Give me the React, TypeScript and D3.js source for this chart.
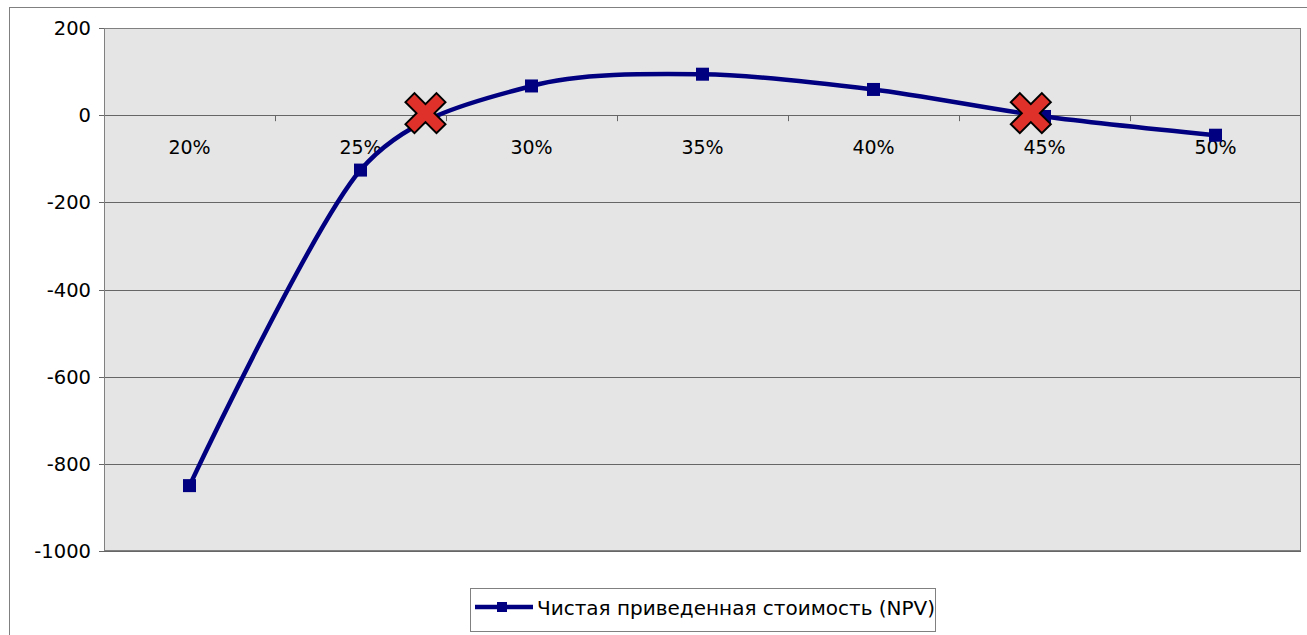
import React from "react";
import * as d3 from "d3";

// NPV profile by discount rate
const rates: string[] = ["20%", "25%", "30%", "35%", "40%", "45%", "50%"];
const npv: number[] = [-850, -126, 67, 94, 59, -3, -46];
// Internal rates of return (discount rate, %) where NPV crosses zero
const irrRates: number[] = [26.9, 44.6];
const rateNumbers: number[] = [20, 25, 30, 35, 40, 45, 50];
const yTicks: number[] = [200, 0, -200, -400, -600, -800, -1000];
const seriesName = "Чистая приведенная стоимость (NPV)";

const W = 1307;
const H = 635;
const plot = { left: 104, top: 28, right: 1301, bottom: 551 };
const FONT = "'DejaVu Sans', Verdana, sans-serif";
const NAVY = "#000080";

export default function App() {
  const x = d3
    .scaleBand<string>()
    .domain(rates)
    .range([plot.left, plot.right])
    .padding(0);
  const y = d3.scaleLinear().domain([-1000, 200]).range([plot.bottom, plot.top]);
  const cx = (c: string) => (x(c) as number) + x.bandwidth() / 2;
  const rateX = d3
    .scaleLinear()
    .domain([rateNumbers[0], rateNumbers[rateNumbers.length - 1]])
    .range([cx(rates[0]), cx(rates[rates.length - 1])]);

  const pts: [number, number][] = rates.map((c, i) => [cx(c), y(npv[i])]);
  const line = d3.line().curve(d3.curveCardinal.tension(0.15))(pts) as string;

  const y0 = y(0);
  const boundaries = rates.slice(1).map((c) => x(c) as number);

  // X-shaped marker polygon
  const a = 20;
  const d = 9;
  const cross = [
    [-a, -a + d], [-a + d, -a], [0, -d], [a - d, -a], [a, -a + d], [d, 0],
    [a, a - d], [a - d, a], [0, d], [-a + d, a], [-a, a - d], [-d, 0],
  ]
    .map((p, i) => `${i ? "L" : "M"}${p[0]},${p[1]}`)
    .join("") + "Z";

  const ms = 13;

  return (
    <div style={{ position: "absolute", left: 0, top: 0 }}>
      <svg width={W} height={H} style={{ display: "block", background: "#fff" }}>
        {/* outer chart frame */}
        <rect x={9.5} y={7.5} width={W + 20} height={H + 20} fill="#fff" stroke="#808080" />
        {/* plot area */}
        <rect
          x={plot.left}
          y={plot.top}
          width={plot.right - plot.left}
          height={plot.bottom - plot.top}
          fill="#e5e5e5"
        />
        {yTicks.map((t) => (
          <g key={t}>
            <line
              x1={plot.left}
              x2={plot.right}
              y1={Math.round(y(t)) + 0.5}
              y2={Math.round(y(t)) + 0.5}
              stroke="#666"
              strokeWidth={1}
            />
            <line
              x1={plot.left - 5}
              x2={plot.left}
              y1={Math.round(y(t)) + 0.5}
              y2={Math.round(y(t)) + 0.5}
              stroke="#666"
            />
            <text
              x={91}
              y={y(t)}
              dy="0.36em"
              textAnchor="end"
              fontFamily={FONT}
              fontSize={19.5}
              fill="#000"
            >
              {t}
            </text>
          </g>
        ))}
        <rect
          x={plot.left + 0.5}
          y={plot.top + 0.5}
          width={plot.right - plot.left - 1}
          height={plot.bottom - plot.top - 1}
          fill="none"
          stroke="#808080"
        />
        {/* category axis along zero */}
        {boundaries.map((bx, i) => (
          <line
            key={i}
            x1={Math.round(bx) + 0.5}
            x2={Math.round(bx) + 0.5}
            y1={y0}
            y2={y0 + 6}
            stroke="#666"
          />
        ))}
        {rates.map((c) => (
          <text
            key={c}
            x={cx(c)}
            y={y0 + 39}
            textAnchor="middle"
            fontFamily={FONT}
            fontSize={19}
            fill="#000"
          >
            {c}
          </text>
        ))}
        {/* NPV line */}
        <path d={line} fill="none" stroke={NAVY} strokeWidth={4.5} strokeLinejoin="round" />
        {pts.map((p, i) => (
          <rect key={i} x={p[0] - ms / 2} y={p[1] - ms / 2} width={ms} height={ms} fill={NAVY} />
        ))}
        {/* IRR markers */}
        {irrRates.map((r) => (
          <path
            key={r}
            d={cross}
            transform={`translate(${rateX(r)},${y0 - 2})`}
            fill="#e0302a"
            stroke="#000"
            strokeWidth={2}
            strokeLinejoin="miter"
          />
        ))}
        {/* legend */}
        <rect x={470.5} y={588.5} width={465} height={43} fill="#fff" stroke="#808080" />
        <line x1={475} x2={533} y1={607} y2={607} stroke={NAVY} strokeWidth={4.5} />
        <rect x={502 - 5} y={607 - 5} width={10} height={10} fill={NAVY} />
        <text x={537} y={615} fontFamily={FONT} fontSize={20} fill="#000">
          {seriesName}
        </text>
      </svg>
    </div>
  );
}
